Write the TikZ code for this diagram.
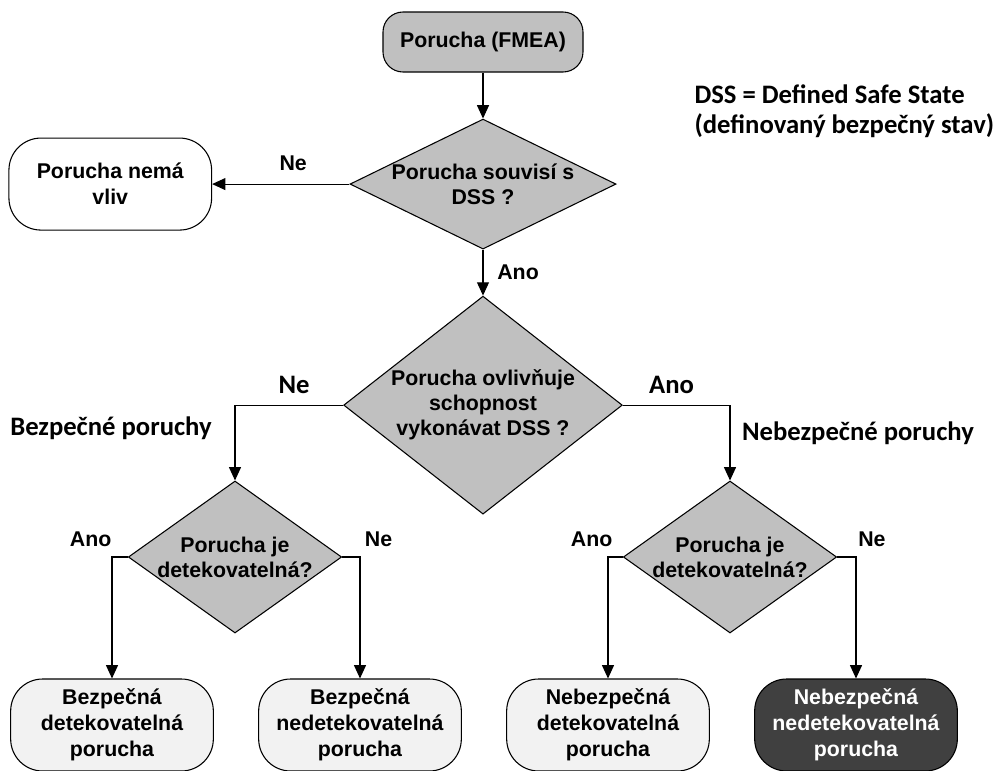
\documentclass[tikz,border=0pt]{standalone}
\usepackage{fontspec}
\setmainfont{Liberation Sans}
\newfontfamily\calibri{Carlito}
\usetikzlibrary{positioning, arrows.meta, shapes.geometric}
\definecolor{fillgray}{HTML}{C0C0C0}
\definecolor{fillpale}{HTML}{F2F2F2}
\definecolor{filldark}{HTML}{404040}
\tikzset{term/.style={draw, rounded corners=15pt, align=center, font=\bfseries\fontsize{16}{19}\selectfont, minimum height=45pt, minimum width=150pt, fill=fillgray},
outcome/.style={draw, rounded corners=24pt, align=center, font=\bfseries\fontsize{16}{19.5}\selectfont, minimum height=69pt, minimum width=152pt, fill=fillpale},
decision/.style={draw, diamond, fill=fillgray, inner sep=0pt},
dtext/.style={align=center, font=\bfseries\fontsize{16}{18.75}\selectfont},
flow/.style={-{Triangle[length=10pt, width=9pt]}},
edge_t/.style={font=\bfseries\fontsize{16}{19}\selectfont},
side_t/.style={font=\calibri\bfseries\fontsize{20}{23}\selectfont}}

\begin{document}
\begin{tikzpicture}[x=0.75pt, y=-0.75pt, line width=0.8pt]
  \useasboundingbox (0,0) rectangle (993,771);
  \node[term] (fmea) at (483,42) {Porucha (FMEA)};
  \node[decision, minimum width=199.5pt, minimum height=97.5pt, below=34.5pt of fmea,
    label={[dtext]center:Porucha souvisí s\\DSS ?}] (dss) {};
  \node[outcome, fill=white, left=103pt of dss] (noeff) {Porucha nemá\\vliv};
  \node[decision, minimum width=209pt, minimum height=163.5pt, below=34.5pt of dss,
    label={[dtext]center:Porucha ovlivňuje\\schopnost\\vykonávat DSS ?}] (aff) {};
  \node[decision, minimum width=160pt, minimum height=114pt,
    label={[dtext]center:Porucha je\\detekovatelná?}] (det1) at (235,557) {};
  \node[decision, minimum width=160pt, minimum height=114pt,
    label={[dtext]center:Porucha je\\detekovatelná?}] (det2) at (730,557) {};

  % koncove stavy
  \node[outcome] (bd) at (112,725) {Bezpečná\\detekovatelná\\porucha};
  \node[outcome] (bn) at (360,725) {Bezpečná\\nedetekovatelná\\porucha};
  \node[outcome] (nd) at (608,725) {Nebezpečná\\detekovatelná\\porucha};
  \node[outcome, fill=filldark, text=white] (nn) at (856,725) {Nebezpečná\\nedetekovatelná\\porucha};

  \node[side_t] (safe) at (111,428) {Bezpečné poruchy};
  \node[side_t] (unsafe) at (858,433) {Nebezpečné poruchy};
  \node[side_t, align=left, inner sep=0pt, anchor=north west] (dssnote) at (694,84)
    {DSS = Defined Safe State\\(definovaný bezpečný stav)};

  \draw[flow] (fmea) -- (dss);
  \draw[flow] (dss) -- node[edge_t, above=6pt, pos=0.41] (ne1) {Ne} (noeff);
  \draw[flow] (dss) -- node[edge_t, right=7pt] (ano1) {Ano} (aff);
  \draw[flow] (aff.west) -| node[side_t, above=4.5pt, pos=0.227] (ne2) {Ne} (det1.north);
  \draw[flow] (aff.east) -| node[side_t, above=4.5pt, pos=0.227] (ano2) {Ano} (det2.north);
  \draw[flow] (det1.west) -| node[edge_t, anchor=south east, pos=0.5, xshift=3.3pt, yshift=4pt] (ano3) {Ano} (bd.north);
  \draw[flow] (det1.east) -| node[edge_t, anchor=south west, pos=0.5, yshift=4pt] (ne3) {Ne} (bn.north);
  \draw[flow] (det2.west) -| node[edge_t, anchor=south east, pos=0.5, xshift=7pt, yshift=4pt] (ano4) {Ano} (nd.north);
  \draw[flow] (det2.east) -| node[edge_t, anchor=south west, pos=0.5, xshift=-2pt, yshift=4pt] (ne4) {Ne} (nn.north);
\end{tikzpicture}
\end{document}
